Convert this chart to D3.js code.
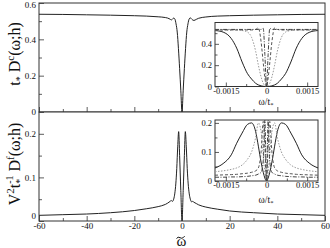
<!DOCTYPE html>
<html><head><meta charset="utf-8">
<script src="https://cdn.jsdelivr.net/npm/d3@7"></script>
<style>
html,body{margin:0;padding:0;background:#fff;}
svg{display:block;}
svg text{font-family:"Liberation Serif","Times New Roman",Times,serif !important;}
</style></head>
<body>
<svg id="c" width="330" height="248"></svg>
<script>
// ---------- data ----------
const mainX   = [-60,-50,-40,-30,-20,-15,-10,-7,-6,-5,-4.5,-4,-3.5,-3,-2.5,-2,-1.5,-1,-0.5,0,0.5,1,1.5,2,2.5,3,3.5,4,4.5,5,6,7,10,15,20,30,40,50,60];
const mainDc  = [0.538,0.537,0.535,0.533,0.530,0.528,0.524,0.520,0.517,0.511,0.507,0.511,0.517,0.512,0.485,0.44,0.35,0.24,0.12,0.0,0.12,0.24,0.35,0.44,0.485,0.512,0.518,0.513,0.506,0.504,0.510,0.516,0.523,0.528,0.530,0.533,0.535,0.537,0.538];
const mainX2  = [-60,-50,-40,-30,-20,-15,-10,-7,-6,-5,-4.5,-4,-3.5,-3,-2.6,-2.2,-1.8,-1.4,-1,-0.5,0,0.5,1,1.4,1.8,2.2,2.6,3,3.5,4,4.5,5,6,7,10,15,20,30,40,50,60];
const mainDf  = [0.013,0.0145,0.016,0.019,0.024,0.028,0.033,0.038,0.041,0.045,0.047,0.045,0.050,0.064,0.085,0.12,0.17,0.205,0.15,0.07,0.0,0.07,0.15,0.205,0.17,0.12,0.085,0.064,0.050,0.044,0.045,0.043,0.040,0.037,0.032,0.027,0.023,0.019,0.016,0.0145,0.013];

const insetX  = [-0.0019,-0.0016,-0.0013,-0.0011,-0.0009,-0.0007,-0.00055,-0.0004,-0.0003,-0.0002,-0.00012,-0.00006,0,0.00006,0.00012,0.0002,0.0003,0.0004,0.00055,0.0007,0.0009,0.0011,0.0013,0.0016,0.0019];
const dcSolid   = [0.525,0.51,0.45,0.36,0.23,0.12,0.07,0.03,0.015,0.006,0.002,0.0005,0,0.0005,0.002,0.006,0.015,0.03,0.07,0.12,0.23,0.36,0.45,0.51,0.525];
const dcDotted  = [0.53,0.53,0.53,0.53,0.525,0.51,0.46,0.33,0.2,0.09,0.03,0.008,0,0.008,0.03,0.09,0.2,0.33,0.46,0.51,0.525,0.53,0.53,0.53,0.53];
const dcDashed  = [0.53,0.53,0.53,0.53,0.53,0.53,0.53,0.535,0.55,0.42,0.22,0.08,0,0.08,0.22,0.42,0.55,0.535,0.53,0.53,0.53,0.53,0.53,0.53,0.53];
const dcDashDot = [0.535,0.535,0.535,0.535,0.535,0.535,0.535,0.535,0.535,0.535,0.545,0.3,0,0.3,0.545,0.535,0.535,0.535,0.535,0.535,0.535,0.535,0.535,0.535,0.535];

const dfSolid   = [0.045,0.06,0.09,0.13,0.165,0.195,0.2,0.17,0.12,0.065,0.03,0.01,0,0.01,0.03,0.065,0.12,0.17,0.2,0.195,0.165,0.13,0.09,0.06,0.045];
const dfDotted  = [0.032,0.035,0.04,0.045,0.055,0.075,0.1,0.15,0.2,0.17,0.09,0.03,0,0.03,0.09,0.17,0.2,0.15,0.1,0.075,0.055,0.045,0.04,0.035,0.032];
const dfDashed  = [0.02,0.021,0.022,0.023,0.025,0.027,0.03,0.035,0.045,0.1,0.205,0.12,0,0.12,0.205,0.1,0.045,0.035,0.03,0.027,0.025,0.023,0.022,0.021,0.02];
const dfDashDot = [0.013,0.013,0.014,0.014,0.015,0.016,0.018,0.02,0.024,0.03,0.07,0.21,0,0.21,0.07,0.03,0.024,0.02,0.018,0.016,0.015,0.014,0.014,0.013,0.013];

const mainXTicks = [-60,-40,-20,0,20,40,60];
const mainXMinor = [-50,-30,-10,10,30,50];
const topYTicks = [0,0.2,0.4,0.6];
const topYMinor = [0.1,0.3,0.5];
const botYTicks = [0,0.1,0.2];
const botYMinor = [0.05,0.15];
const insetXTicks = [-0.0015,0,0.0015];
const insetXMinor = [-0.00075,0.00075];
const inTopYTicks = [0,0.2,0.4];
const inTopYMinor = [0.1,0.3,0.5];
const inBotYTicks = [0,0.1,0.2];
const inBotYMinor = [0.05,0.15];

// ---------- drawing ----------
const svg = d3.select("#c");
const FONT = "Liberation Serif, Times New Roman, serif";
const axisCol = "#333";

const x = d3.scaleLinear().domain([-60,60]).range([39,325]);
const yTop = d3.scaleLinear().domain([0,0.6]).range([112,3]);
const yBot = d3.scaleLinear().domain([0,0.25]).range([221,112]);

function styleAxis(g,fs){
  g.attr("font-family",FONT);
  g.select(".domain").remove();
  g.selectAll("line").attr("stroke",axisCol).attr("stroke-width",0.8);
  g.selectAll("text").attr("fill","#111").attr("font-size",fs).attr("font-family",FONT);
}
function frame(x0,y0,x1,y1){
  svg.append("rect").attr("x",x0).attr("y",y0).attr("width",x1-x0).attr("height",y1-y0)
    .attr("fill","#fff").attr("stroke",axisCol).attr("stroke-width",1);
}
function drawAxes(o){
  const [ylo] = o.ys.range();
  const xl = o.xs.range()[0];
  const gx = svg.append("g").attr("transform",`translate(0,${ylo})`)
    .call(d3.axisBottom(o.xs).tickValues(o.xt).tickSizeInner(-o.maj).tickSizeOuter(0).tickPadding(o.xpad).tickFormat(o.xfmt||""));
  styleAxis(gx,o.fs);
  const gxm = svg.append("g").attr("transform",`translate(0,${ylo})`)
    .call(d3.axisBottom(o.xs).tickValues(o.xm).tickSizeInner(-o.mnr).tickSizeOuter(0).tickFormat(""));
  styleAxis(gxm,o.fs);
  const gy = svg.append("g").attr("transform",`translate(${xl},0)`)
    .call(d3.axisLeft(o.ys).tickValues(o.yt).tickSizeInner(-o.maj).tickSizeOuter(0).tickPadding(3).tickFormat(o.yfmt));
  styleAxis(gy,o.fs);
  const gym = svg.append("g").attr("transform",`translate(${xl},0)`)
    .call(d3.axisLeft(o.ys).tickValues(o.ym).tickSizeInner(-o.mnr).tickSizeOuter(0).tickFormat(""));
  styleAxis(gym,o.fs);
  return {gx,gy};
}
function clip(id,x0,y0,x1,y1){
  svg.append("clipPath").attr("id",id).append("rect").attr("x",x0).attr("y",y0).attr("width",x1-x0).attr("height",y1-y0);
}
function drawLine(xs,ys,xv,yv,opts,clipId){
  const pts = xv.map((d,i)=>[d,yv[i]]);
  svg.append("path").datum(pts)
    .attr("d", d3.line().x(d=>xs(d[0])).y(d=>ys(d[1])).curve(d3.curveMonotoneX))
    .attr("fill","none").attr("stroke",opts.c).attr("stroke-width",opts.w||1)
    .attr("stroke-dasharray",opts.d||null).attr("clip-path",`url(#${clipId})`);
}
const yfmt = d => d===0 ? "0" : String(d);

// main panels
frame(39,3,325,112);
frame(39,112,325,221);
clip("cTop",39,3,325,112);
clip("cBot",39,112,325,221);
drawLine(x,yTop,mainX,mainDc,{c:"#222",w:1},"cTop");
drawLine(x,yBot,mainX2,mainDf,{c:"#222",w:1},"cBot");
const upperAxes = drawAxes({xs:x,ys:yTop,xt:mainXTicks,xm:mainXMinor,yt:topYTicks,ym:topYMinor,xfmt:null,yfmt,maj:5,mnr:3,xpad:2,fs:9});
upperAxes.gy.selectAll(".tick text").filter(d=>d===0.6).attr("dy","0.55em");
const lowerAxes = drawAxes({xs:x,ys:yBot,xt:mainXTicks,xm:mainXMinor,yt:botYTicks,ym:botYMinor,xfmt:d=>String(d),yfmt,maj:5,mnr:3,xpad:2,fs:9});
lowerAxes.gy.selectAll(".tick text").filter(d=>d===0).attr("dy","-0.3em");

// insets
const ix = d3.scaleLinear().domain([-0.0019,0.0019]).range([215,318]);
const iyTop = d3.scaleLinear().domain([0,0.6]).range([86.5,22.5]);
const iyBot = d3.scaleLinear().domain([0,0.21]).range([181,120]);
const ixfmt = d => d===0 ? "0" : String(d);

frame(215,22.5,318,86.5);
clip("ciTop",215,22.5,318,86.5);
drawLine(ix,iyTop,insetX,dcSolid,{c:"#222",w:1},"ciTop");
drawLine(ix,iyTop,insetX,dcDotted,{c:"#999",w:1,d:"1.5,1.5"},"ciTop");
drawLine(ix,iyTop,insetX,dcDashed,{c:"#555",w:1,d:"3,2"},"ciTop");
drawLine(ix,iyTop,insetX,dcDashDot,{c:"#444",w:1,d:"4,1.5,1,1.5"},"ciTop");
drawAxes({xs:ix,ys:iyTop,xt:insetXTicks,xm:insetXMinor,yt:inTopYTicks,ym:inTopYMinor,xfmt:ixfmt,yfmt,maj:4,mnr:2.5,xpad:1,fs:8.5});

frame(215,120,318,181);
clip("ciBot",215,120,318,181);
drawLine(ix,iyBot,insetX,dfSolid,{c:"#222",w:1},"ciBot");
drawLine(ix,iyBot,insetX,dfDotted,{c:"#999",w:1,d:"1.5,1.5"},"ciBot");
drawLine(ix,iyBot,insetX,dfDashed,{c:"#555",w:1,d:"3,2"},"ciBot");
drawLine(ix,iyBot,insetX,dfDashDot,{c:"#444",w:1,d:"4,1.5,1,1.5"},"ciBot");
drawAxes({xs:ix,ys:iyBot,xt:insetXTicks,xm:insetXMinor,yt:inBotYTicks,ym:inBotYMinor,xfmt:ixfmt,yfmt,maj:4,mnr:2.5,xpad:1,fs:8.5});

function txt(xp,yp,size,anchor){
  return svg.append("text").attr("x",xp).attr("y",yp).attr("text-anchor",anchor||"middle")
    .attr("font-family",FONT).attr("font-size",size).attr("fill","#111");
}
// inset x labels
function omegaT(cx,cy){
  const t = txt(cx,cy,9.5);
  t.append("tspan").text("ω/t");
  t.append("tspan").attr("dy",2).attr("font-size",6.5).text("*");
}
omegaT(266,104.5);
omegaT(266,202.5);

// main x label: omega with a tilde accent drawn above it
txt(181.5,245.5,15).text("ω");
svg.append("path").attr("d","M176.5,238.5 q1.5,-2.2 3.5,-0.8 q2,1.4 3.6,-0.4 q0.8,-0.8 1.2,-1.3")
  .attr("fill","none").attr("stroke","#111").attr("stroke-width",1);

// y labels
const lt = svg.append("text").attr("transform","translate(20,54) rotate(-90)")
  .attr("text-anchor","middle").attr("font-family",FONT).attr("font-size",16).attr("fill","#111");
lt.append("tspan").text("t");
lt.append("tspan").attr("dy",3).attr("font-size",10).text("*");
lt.append("tspan").attr("dy",-3).text(" D");
lt.append("tspan").attr("dy",-6).attr("font-size",11).text("c");
lt.append("tspan").attr("dy",6).text("(ω;h)");

const lb = svg.append("text").attr("transform","translate(20,164) rotate(-90)")
  .attr("text-anchor","middle").attr("font-family",FONT).attr("font-size",16).attr("fill","#111");
lb.append("tspan").text("V");
lb.append("tspan").attr("dy",-6).attr("font-size",11).text("2");
lb.append("tspan").attr("dy",6).text("t");
lb.append("tspan").attr("dy",3).attr("font-size",10).text("*");
lb.append("tspan").attr("dx",-5).attr("dy",-10).attr("font-size",10).text("-1");
lb.append("tspan").attr("dy",7).text(" D");
lb.append("tspan").attr("dy",-6).attr("font-size",11).text("f");
lb.append("tspan").attr("dy",6).text("(ω;h)");
</script>
</body></html>
